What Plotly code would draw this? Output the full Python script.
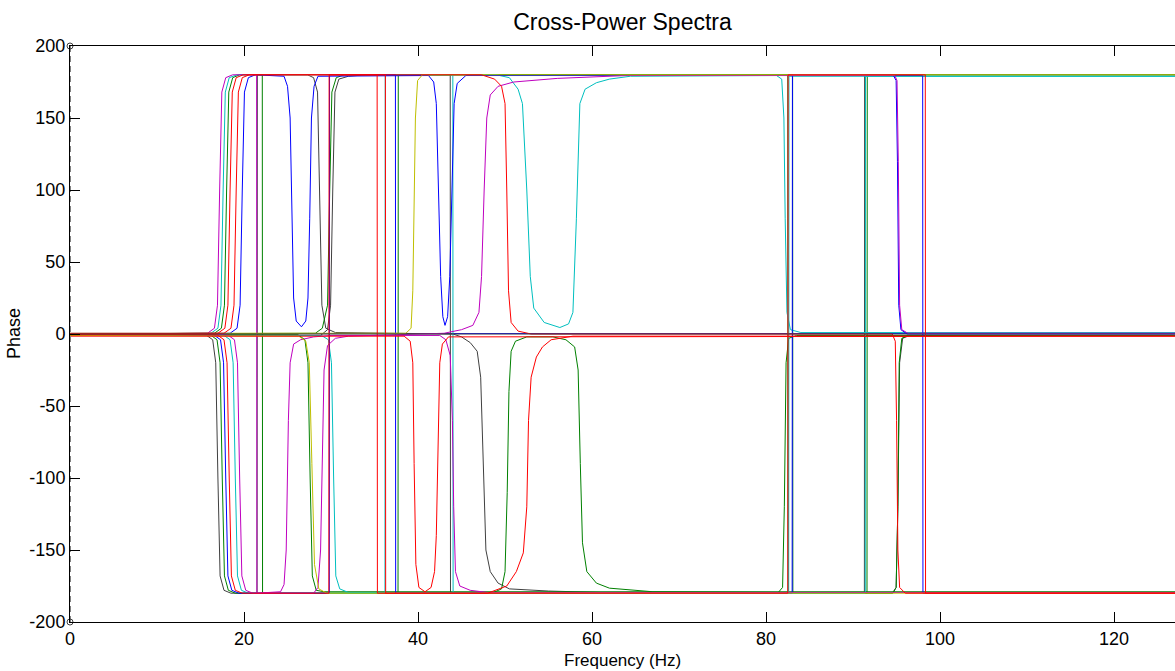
import plotly.graph_objects as go

# ---------------- data (frequency in Hz, phase in degrees) ----------------
x_ticks = [0, 20, 40, 60, 80, 100, 120]
x_tick_labels = ["0", "20", "40", "60", "80", "100", "120"]
y_ticks = [-200, -150, -100, -50, 0, 50, 100, 150, 200]
y_tick_labels = ["-200", "-150", "-100", "-50", "0", "50", "100", "150", "200"]

black_1 = [(0, 0), (15.6, -0.5), (16.4, -4), (16.75, -20), (17.0, -100), (17.25, -168), (17.7, -178), (18.5, -180),
           (21.5, -180), (21.53, 180), (27.3, 180), (28.0, 178), (28.45, 168), (28.7, 100), (28.95, 20), (29.4, 4),
           (30.5, 1), (44.0, 0), (45.0, -2), (46.0, -6), (46.8, -12), (47.2, -30), (47.5, -90), (47.8, -150),
           (48.3, -165), (49.2, -173), (50.5, -177), (55, -178.5), (61, -179.5), (91.3, -179.5), (91.33, 180), (128, 180)]
black_2 = [(0, -1), (28.8, -1), (29.6, 3), (29.95, 20), (30.2, 100), (30.45, 168), (30.9, 177), (32, 179), (34, 180),
           (43.7, 180), (43.73, -180), (94.5, -180), (94.95, -176), (95.15, -120), (95.35, -20), (95.7, -3),
           (96.5, -1), (128, -1)]
black_3 = [(0, 0), (128, 0)]

green_1 = [(0, 0), (16.6, 0.5), (17.4, 4), (17.75, 20), (18.0, 100), (18.25, 168), (18.7, 178), (19.5, 180),
           (22.1, 180), (22.13, -180), (37.7, -180), (37.73, 180), (82.5, 180), (82.53, -180), (91.6, -180),
           (91.63, 180), (128, 180)]
green_2 = [(0, 0), (16.1, -0.5), (16.9, -4), (17.25, -20), (17.5, -100), (17.75, -168), (18.2, -178), (19, -180),
           (48.5, -180), (49.6, -177), (50.0, -165), (50.25, -110), (50.45, -40), (50.7, -12), (51.2, -5),
           (52.5, -2), (55.5, -2), (57.0, -4), (58.0, -9), (58.4, -25), (58.65, -90), (58.9, -145), (59.4, -165),
           (60.5, -173), (62, -176.5), (67, -179), (81.4, -179.5), (81.9, -176), (82.1, -120), (82.3, -20),
           (82.6, -3), (83.5, -1), (128, -1)]
green_3 = [(0, -0.5), (26.2, -0.5), (27.0, -4), (27.35, -20), (27.6, -100), (27.85, -168), (28.3, -178),
           (29.2, -179), (128, -179)]
green_4 = [(0, 0), (28.2, 0.5), (29.0, 4), (29.6, 20), (29.85, 100), (30.1, 168), (30.6, 178), (31.5, 180),
           (83.05, 180), (83.08, -180), (94.6, -180), (94.95, -176), (95.15, -120), (95.3, -20), (95.6, -3),
           (96.3, -1), (128, -1)]

cyan_1 = [(0, 0), (16.2, 0.5), (17.0, 4), (17.35, 20), (17.6, 100), (17.85, 168), (18.3, 178), (19.2, 180),
          (49.0, 180), (50.5, 178), (51.5, 170), (52.0, 160), (52.5, 100), (52.9, 40), (53.3, 18), (54.5, 8),
          (56.3, 4.5), (57.3, 7), (57.8, 15), (58.2, 80), (58.6, 160), (59.2, 170), (60.5, 174.5), (62, 177),
          (64.4, 179), (81.2, 179.5), (81.8, 177), (82.05, 150), (82.2, 80), (82.4, 15), (82.8, 3), (84, 1),
          (128, 1)]
cyan_2 = [(0, 0), (17.6, -0.5), (18.4, -4), (18.75, -20), (19.0, -100), (19.25, -168), (19.7, -178), (20.5, -180),
          (36.2, -180), (36.23, 180), (44.0, 180), (44.03, -180), (91.4, -180), (91.43, 179), (128, 179)]
cyan_3 = [(0, -1), (28.9, -1), (29.7, -4), (30.05, -20), (30.3, -100), (30.55, -168), (31.0, -177), (32, -179.5),
          (82.6, -179.5), (82.63, 179), (128, 179)]

blue_1 = [(0, 0), (18.4, 0.5), (19.2, 4), (19.55, 20), (19.8, 100), (20.05, 168), (20.5, 178), (21.3, 180),
          (24.6, 179), (25.0, 172), (25.3, 150), (25.5, 80), (25.7, 25), (26.0, 9), (26.6, 5), (27.1, 9),
          (27.35, 25), (27.55, 80), (27.75, 150), (28.05, 172), (28.5, 179), (41.2, 179.5), (41.8, 175),
          (42.1, 160), (42.35, 100), (42.6, 40), (42.85, 12), (43.1, 6), (43.4, 12), (43.65, 40), (43.9, 100),
          (44.15, 160), (44.5, 174), (45.5, 179.5), (98.0, 179.5), (98.03, -180), (128, -180)]
blue_2 = [(0, 0), (16.5, -0.5), (17.3, -4), (17.65, -20), (17.9, -100), (18.15, -168), (18.6, -178), (19.4, -180),
          (29.8, -180), (29.83, 180), (37.4, 180), (37.43, -180), (83.0, -180), (83.03, 180), (94.6, 180),
          (94.95, 176), (95.1, 120), (95.25, 20), (95.5, 3), (96.2, 0), (128, 0)]
blue_3 = [(0, 0.3), (128, 0.3)]

magenta_1 = [(0, 0.5), (15.8, 0.5), (16.6, 4), (16.95, 20), (17.2, 100), (17.45, 168), (17.9, 178), (18.7, 180),
             (21.45, 180), (21.48, -180), (24.2, -179), (24.6, -174), (24.85, -150), (25.1, -60), (25.3, -20),
             (25.7, -7), (26.5, -4), (28, -2), (30, -1), (42.5, -1), (43.2, -4), (43.7, -15), (43.95, -60),
             (44.1, -120), (44.3, -165), (44.8, -175), (46, -178), (48, -179.5), (128, -179.5)]
magenta_2 = [(0, 0), (18.1, -0.5), (18.9, -4), (19.25, -20), (19.5, -100), (19.75, -168), (20.2, -178), (21, -180),
             (28.0, -180), (28.5, -176), (28.8, -150), (29.0, -80), (29.2, -25), (29.6, -8), (30.5, -3),
             (32, -1.5), (43, 0.5), (45, 3), (46.3, 6), (47.0, 15), (47.3, 40), (47.6, 100), (47.9, 150),
             (48.3, 166), (49.2, 172), (51, 175), (56, 177.5), (64, 179.5), (94.8, 179.5), (95.05, 176),
             (95.2, 120), (95.35, 20), (95.6, 3), (96.3, 0.5), (128, 0.5)]

olive_1 = [(0, -1), (26.3, -1.5), (27.1, -5), (27.5, -20), (27.8, -90), (28.1, -160), (28.6, -177), (29.5, -180),
           (128, -180)]
olive_2 = [(0, 0.5), (38.6, 0.5), (39.2, 4), (39.4, 30), (39.7, 150), (39.95, 176), (40.5, 180), (128, 180)]

red_1 = [(0, 0), (17.0, 0.5), (17.8, 4), (18.15, 20), (18.4, 100), (18.65, 168), (19.1, 178), (19.9, 180),
         (47.3, 180), (48.8, 177), (49.6, 172), (50.0, 160), (50.2, 100), (50.4, 30), (50.7, 8), (51.5, 2),
         (53, 0), (94.5, 0), (94.85, -5), (95.0, -60), (95.15, -150), (95.35, -176), (96, -180), (128, -180)]
red_2 = [(0, 0), (17.7, 0.5), (18.5, 4), (18.85, 20), (19.1, 100), (19.35, 168), (19.8, 178), (20.6, 180),
         (36.25, 180), (36.28, -180), (48.0, -180), (50.2, -175), (51.3, -165), (52.1, -152), (52.5, -120),
         (52.7, -60), (53.0, -30), (53.6, -16), (54.3, -9), (55.3, -4), (57.8, -1.5), (128, -1.5)]
red_3 = [(0, 0), (16.9, -0.5), (17.7, -4), (18.05, -20), (18.3, -100), (18.55, -168), (19.0, -178), (19.8, -180),
         (29.75, -180), (29.78, 180), (35.3, 180), (35.33, -180), (82.5, -180), (82.53, 180), (98.3, 180),
         (98.33, -180), (128, -180)]
red_4 = [(0, -1.5), (38.4, -1.5), (39.1, -5), (39.4, -20), (39.55, -90), (39.75, -160), (40.1, -176),
         (40.8, -179), (41.5, -176), (41.9, -165), (42.1, -140), (42.3, -70), (42.5, -20), (42.8, -7),
         (43.5, -2), (128, -1.5)]

marker_line_x = [0, 0]
marker_line_y = [-200, 200]

# ---------------- styling ----------------
C_BLUE, C_GREEN, C_RED = "#0000FF", "#008000", "#FF0000"
C_CYAN, C_MAG, C_OLIVE, C_BLACK = "#00BFBF", "#BF00BF", "#BFBF00", "#404040"

series = [
    (blue_3, C_BLUE), (black_1, C_BLACK), (black_2, C_BLACK),
    (green_1, C_GREEN), (green_2, C_GREEN), (green_3, C_GREEN), (green_4, C_GREEN),
    (cyan_1, C_CYAN), (cyan_2, C_CYAN), (cyan_3, C_CYAN),
    (blue_1, C_BLUE), (blue_2, C_BLUE),
    (magenta_1, C_MAG), (magenta_2, C_MAG),
    (olive_1, C_OLIVE), (olive_2, C_OLIVE),
    (red_1, C_RED), (red_2, C_RED), (red_3, C_RED), (red_4, C_RED),
    (black_3, C_BLACK),
]

fig = go.Figure()
for pts, col in series:
    fig.add_trace(go.Scatter(
        x=[p[0] for p in pts], y=[p[1] for p in pts], mode="lines",
        line=dict(color=col, width=1), showlegend=False, hoverinfo="skip"))

fig.add_trace(go.Scatter(
    x=marker_line_x, y=marker_line_y, mode="lines+markers",
    line=dict(color="#808080", width=2, dash="6px,4px"),
    marker=dict(symbol="circle-open", size=6, color="#404040"),
    cliponaxis=False, showlegend=False, hoverinfo="skip"))

FONT = "Liberation Sans, Arial, Helvetica, sans-serif"
fig.update_layout(
    width=1175, height=671,
    margin=dict(l=70, r=0, t=46, b=49),
    paper_bgcolor="white", plot_bgcolor="white",
    font=dict(family=FONT, size=18, color="black"),
    title=dict(text="Cross-Power Spectra", x=0.5, xref="paper", y=1 - 22 / 671, yref="container",
               xanchor="center", yanchor="middle", font=dict(size=23, family=FONT, color="black")),
    xaxis=dict(range=[0, 127.0], tickvals=x_ticks, ticktext=x_tick_labels, ticks="inside", ticklen=10,
               tickcolor="black", showline=True, linecolor="black", linewidth=1, mirror="ticks",
               showgrid=False, zeroline=False, tickfont=dict(size=18)),
    yaxis=dict(range=[-200, 200], tickvals=y_ticks, ticktext=y_tick_labels, ticks="inside", ticklen=10,
               tickcolor="black", showline=True, linecolor="black", linewidth=1, showgrid=False,
               zeroline=False, tickfont=dict(size=18)),
    annotations=[
        dict(text="Frequency (Hz)", xref="paper", yref="paper", x=0.5, y=(622 - 660) / 576,
             xanchor="center", yanchor="middle", showarrow=False, font=dict(size=17)),
        dict(text="Phase", xref="paper", yref="paper", x=(14 - 70) / 1105, y=0.5, textangle=-90,
             xanchor="center", yanchor="middle", showarrow=False, font=dict(size=18)),
    ],
)

fig.write_html("out.html")
